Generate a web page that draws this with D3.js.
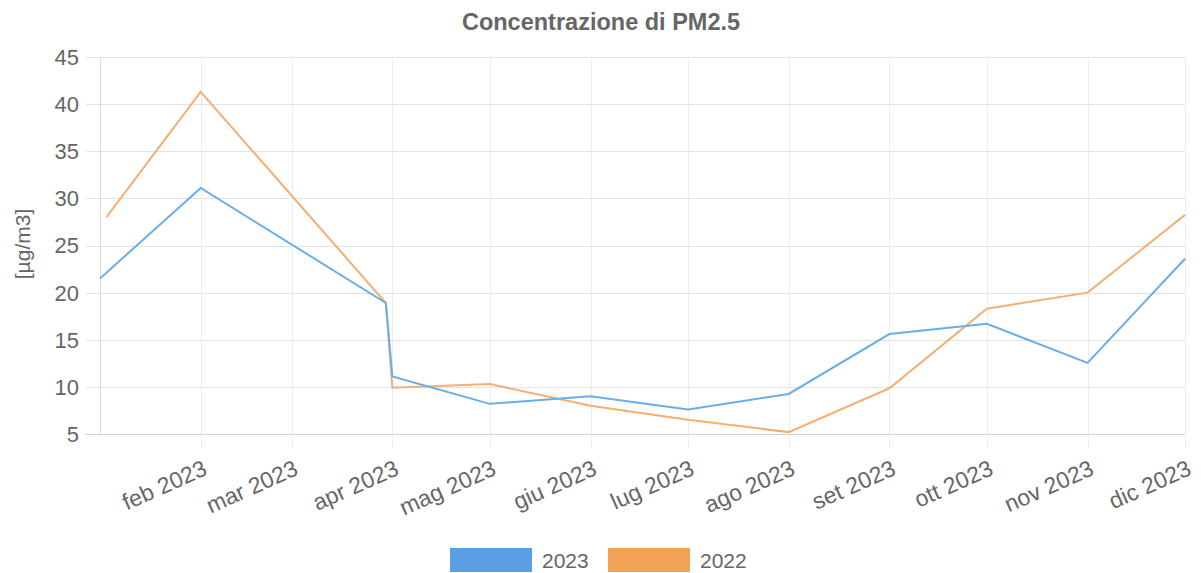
<!DOCTYPE html>
<html>
<head>
<meta charset="utf-8">
<script src="https://cdn.jsdelivr.net/npm/d3@7"></script>
<style>
  body { margin: 0; background: #fff; }
  svg { display: block; font-family: "Liberation Sans", Arial, Helvetica, sans-serif; }
</style>
</head>
<body>
<svg id="chart" width="1201" height="573"></svg>
<script>
// data
var dates2023 = ["2023-01-01", "2023-02-01", "2023-03-30", "2023-04-01", "2023-05-01", "2023-06-01",
                 "2023-07-01", "2023-08-01", "2023-09-01", "2023-10-01", "2023-11-01", "2023-12-01"];
var values2023 = [21.5, 31.1, 18.9, 11.1, 8.2, 9.0, 7.6, 9.25, 15.6, 16.7, 12.55, 23.6];

var dates2022 = ["2023-01-03", "2023-02-01", "2023-03-30", "2023-04-01", "2023-05-01", "2023-06-01",
                 "2023-07-01", "2023-08-01", "2023-09-01", "2023-10-01", "2023-11-01", "2023-12-01"];
var values2022 = [28.0, 41.3, 18.9, 9.9, 10.3, 8.0, 6.5, 5.2, 9.85, 18.3, 20.0, 28.25];

var tickDates = ["2023-02-01", "2023-03-01", "2023-04-01", "2023-05-01", "2023-06-01", "2023-07-01",
                 "2023-08-01", "2023-09-01", "2023-10-01", "2023-11-01", "2023-12-01"];
var tickLabels = ["feb 2023", "mar 2023", "apr 2023", "mag 2023", "giu 2023", "lug 2023",
                  "ago 2023", "set 2023", "ott 2023", "nov 2023", "dic 2023"];
var yTicks = [5, 10, 15, 20, 25, 30, 35, 40, 45];

var seriesNames = ["2023", "2022"];
var lineColors = ["#6aaee9", "#f4b072"];
var boxColors = ["#5a9fe4", "#f2a254"];

var parse = d3.timeParse("%Y-%m-%d");
var textColor = "#666";

var svg = d3.select("#chart");

var x = d3.scaleTime()
  .domain([parse("2023-01-01"), parse("2023-12-01")])
  .range([100, 1185]);

var y = d3.scaleLinear()
  .domain([5, 45])
  .range([434, 57]);

// horizontal grid
svg.append("g").selectAll("line").data(yTicks).enter().append("line")
  .attr("x1", 86).attr("x2", 1186)
  .attr("y1", function (d) { return Math.round(y(d)) + 0.5; })
  .attr("y2", function (d) { return Math.round(y(d)) + 0.5; })
  .attr("stroke", function (d) { return d === 5 ? "#cfcfcf" : "#e2e2e2"; })
  .attr("stroke-width", 1);

// vertical grid
svg.append("g").selectAll("line").data(tickDates).enter().append("line")
  .attr("x1", function (d) { return Math.round(x(parse(d))) + 0.5; })
  .attr("x2", function (d) { return Math.round(x(parse(d))) + 0.5; })
  .attr("y1", 57).attr("y2", 448)
  .attr("stroke", "#ececec");

// y axis line
svg.append("line")
  .attr("x1", 100.5).attr("x2", 100.5)
  .attr("y1", 57).attr("y2", 434)
  .attr("stroke", "#dcdcdc");

// y tick labels
svg.append("g").selectAll("text").data(yTicks).enter().append("text")
  .attr("x", 79)
  .attr("y", function (d) { return y(d); })
  .attr("dy", "0.36em")
  .attr("text-anchor", "end")
  .attr("font-size", 22)
  .attr("fill", textColor)
  .text(function (d) { return d; });

// x tick labels, rotated
svg.append("g").selectAll("text").data(tickDates).enter().append("text")
  .attr("transform", function (d) {
    return "translate(" + (x(parse(d)) + 1) + ",459) rotate(-24)";
  })
  .attr("dy", "0.72em")
  .attr("text-anchor", "end")
  .attr("font-size", 23)
  .attr("fill", textColor)
  .text(function (d, i) { return tickLabels[i]; });

// y axis title
svg.append("text")
  .attr("transform", "translate(30,244) rotate(-90)")
  .attr("text-anchor", "middle")
  .attr("font-size", 21)
  .attr("fill", textColor)
  .text("[µg/m3]");

// title
svg.append("text")
  .attr("x", 601).attr("y", 30)
  .attr("text-anchor", "middle")
  .attr("font-size", 23.5)
  .attr("font-weight", "bold")
  .attr("fill", textColor)
  .text("Concentrazione di PM2.5");

// lines
var line = d3.line()
  .x(function (d) { return x(d[0]); })
  .y(function (d) { return y(d[1]); });

var series = [
  d3.zip(dates2023.map(parse), values2023),
  d3.zip(dates2022.map(parse), values2022)
];

// draw 2022 first so 2023 sits on top
[1, 0].forEach(function (i) {
  svg.append("path")
    .datum(series[i])
    .attr("d", line)
    .attr("fill", "none")
    .attr("stroke", lineColors[i])
    .attr("stroke-width", 2)
    .attr("stroke-linejoin", "miter");
});

// legend
var legendX = [450, 608];
var lg = svg.append("g").selectAll("g").data(seriesNames).enter().append("g")
  .attr("transform", function (d, i) { return "translate(" + legendX[i] + ",548)"; });
lg.append("rect")
  .attr("width", 82).attr("height", 24)
  .attr("fill", function (d, i) { return boxColors[i]; });
lg.append("text")
  .attr("x", 92).attr("y", 12)
  .attr("dy", "0.36em")
  .attr("font-size", 21)
  .attr("fill", textColor)
  .text(function (d) { return d; });
</script>
</body>
</html>
